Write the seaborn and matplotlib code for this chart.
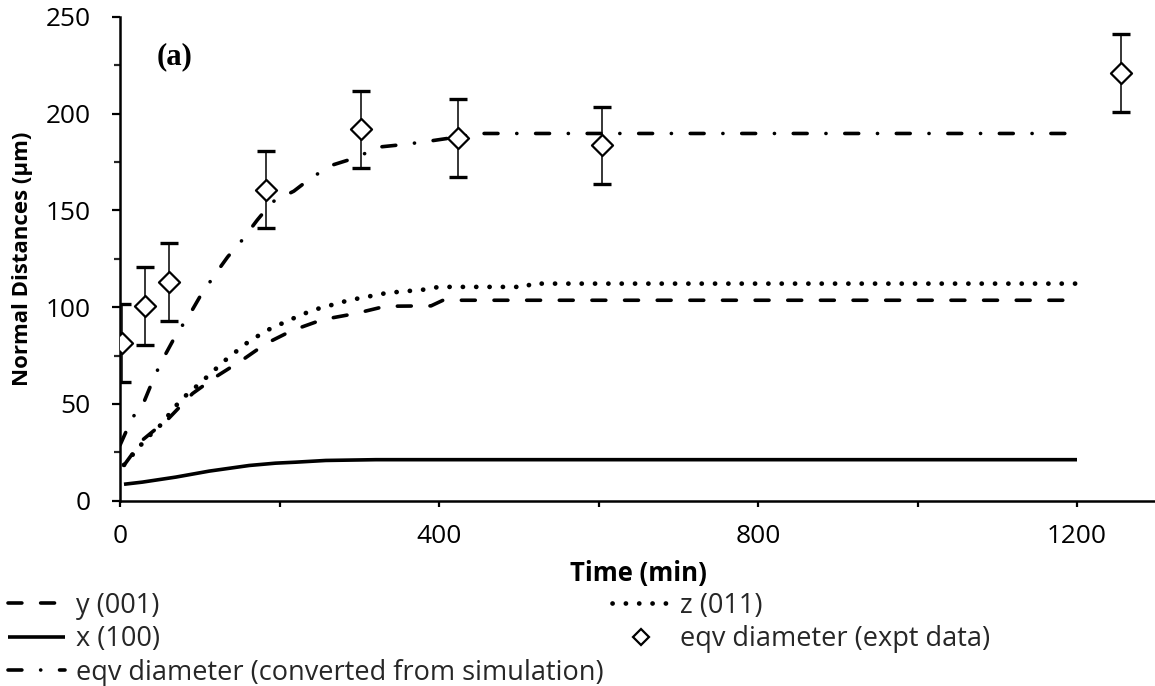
import matplotlib
matplotlib.use("Agg")
import matplotlib.pyplot as plt
import numpy as np
import pandas as pd
import seaborn as sns
from matplotlib.lines import Line2D
from matplotlib.ticker import MultipleLocator

# --- simulated crystal dimensions (µm) vs time (min) ---
t_y001 = [5, 28, 61, 91, 120, 153, 183, 216, 254, 295, 333, 390, 405, 1200]
v_y001 = [18.3, 31.3, 42.5, 55.4, 64.0, 72.6, 81.2, 88.0, 93.6, 96.7, 100.5, 100.7, 103.6, 103.6]

t_z011 = [5, 33, 49, 76, 100, 132, 158, 183, 212, 241, 287, 335, 381, 400, 510, 515, 1200]
v_z011 = [18.5, 32.1, 38.2, 52.0, 60.6, 72.6, 81.2, 87.8, 93.3, 98.4, 103.6, 107.4, 109.1, 110.5, 110.5, 112.2, 112.2]

t_x100 = [5, 28, 70, 112, 162, 195, 220, 258, 321, 1200]
v_x100 = [8.5, 9.6, 12.2, 15.3, 18.2, 19.4, 19.9, 20.8, 21.2, 21.2]

t_eqv_sim = [0, 15, 30, 43, 53, 70, 87, 101, 120, 135, 153, 172, 191, 218, 241, 268, 295, 325, 358, 387, 410, 450, 1200]
v_eqv_sim = [28.7, 42.5, 51.0, 64.0, 72.6, 85.5, 96.0, 106.0, 117.4, 126.0, 134.6, 145.0, 154.4, 160.0, 167.3,
             173.7, 177.2, 182.8, 184.2, 185.8, 187.2, 189.8, 189.8]

# --- experimental equivalent diameter ---
t_expt = [3, 31, 61, 183, 302, 424, 604, 1255]
v_expt = [81.6, 100.7, 113.1, 160.8, 192.0, 187.5, 183.7, 221.0]
err_expt = [20, 20, 20, 20, 20, 20, 20, 20]

labels = {
    "y001": "y (001)",
    "z011": "z (011)",
    "x100": "x (100)",
    "expt": "eqv diameter (expt data)",
    "sim": "eqv diameter (converted from simulation)",
}

sns.set_theme(style="ticks")
FONT = ["Open Sans", "DejaVu Sans"]
plt.rcParams["font.family"] = FONT
plt.rcParams["lines.scale_dashes"] = False
plt.rcParams["lines.dash_capstyle"] = "round"
plt.rcParams["lines.solid_capstyle"] = "butt"

W, H = 1155, 686
fig = plt.figure(figsize=(W / 100, H / 100), dpi=100)
renderer = fig.canvas.get_renderer()


def size_for_width(text, width_px, **kw):
    """Font size (pt) at which `text` renders `width_px` pixels wide."""
    probe = fig.text(0, 0, text, fontsize=20, **kw)
    w = probe.get_window_extent(renderer).width
    probe.remove()
    return 20 * width_px / w


fs_tick = size_for_width("800", 45)
fs_leg = size_for_width(labels["sim"], 526)
fs_xlab = size_for_width("Time (min)", 137, fontweight="bold")
fs_ylab = size_for_width("Normal Distances (µm)", 254, fontweight="bold")
fs_tag = size_for_width("(a)", 36, fontweight="bold", family="Liberation Serif")

ax = fig.add_axes([120 / W, 1 - 500.7 / H, 1036.75 / W, 483.7 / H])

LW = 2.6
styles = {
    "y001": dict(linestyle=(0, (10.0, 13.5)), linewidth=LW),
    "z011": dict(linestyle=(0, (0.1, 9.5)), linewidth=3.4),
    "x100": dict(linestyle="-", linewidth=LW),
    "sim": dict(linestyle=(0, (10.0, 13.5, 0.1, 13.5)), linewidth=LW),
}

series = {
    "y001": (t_y001, v_y001),
    "z011": (t_z011, v_z011),
    "x100": (t_x100, v_x100),
    "sim": (t_eqv_sim, v_eqv_sim),
}
handles = {}
for key, (tt, vv) in series.items():
    df = pd.DataFrame({"t": tt, "v": vv})
    sns.lineplot(data=df, x="t", y="v", ax=ax, color="black",
                 estimator=None, sort=False, **styles[key])
    handles[key] = Line2D([], [], color="black", **styles[key])

# experimental points with error bars
ax.errorbar(t_expt, v_expt, yerr=err_expt, fmt="none", ecolor="black",
            elinewidth=1.1, capsize=6.5, capthick=2.4, zorder=3)
df_e = pd.DataFrame({"t": t_expt, "v": v_expt})
sns.scatterplot(data=df_e, x="t", y="v", ax=ax, marker="D", s=115,
                facecolor="white", edgecolor="black", linewidth=1.6, zorder=4)
handles["expt"] = Line2D([], [], linestyle="none", marker="D", markersize=8,
                         markerfacecolor="white", markeredgecolor="black",
                         markeredgewidth=1.6)

ax.set_xlim(0, 1300)
ax.set_ylim(0, 250)
ax.xaxis.set_major_locator(MultipleLocator(400))
ax.xaxis.set_minor_locator(MultipleLocator(200))
ax.yaxis.set_major_locator(MultipleLocator(50))
ax.yaxis.set_minor_locator(MultipleLocator(25))

for side in ("top", "right"):
    ax.spines[side].set_visible(False)
for side in ("left", "bottom"):
    ax.spines[side].set_linewidth(1.8)
    ax.spines[side].set_color("black")

ax.tick_params(axis="y", which="major", direction="out", length=6, width=1.6,
               pad=15, labelsize=fs_tick, colors="black")
ax.tick_params(axis="y", which="minor", direction="out", length=4, width=1.6)
ax.tick_params(axis="x", which="both", direction="out", length=4, width=1.6,
               pad=13, labelsize=fs_tick, colors="black")

ax.set_xlabel("Time (min)", fontsize=fs_xlab, fontweight="bold", color="black")
ax.set_ylabel("Normal Distances (µm)", fontsize=fs_ylab, fontweight="bold", color="black")
ax.xaxis.set_label_coords(0.5, -0.1495)
ax.xaxis.label.set_va("center")
ax.yaxis.set_label_coords(-0.0945, 0.5)
ax.yaxis.label.set_va("center")

ax.text(0.053, 0.917, "(a)", transform=ax.transAxes, ha="center", va="center",
        fontsize=fs_tag, fontweight="bold", family="Liberation Serif", color="black")

leg_kw = dict(loc="upper left", frameon=False, fontsize=fs_leg, handlelength=2.1,
              handletextpad=0.4, labelspacing=0.2, borderpad=0, borderaxespad=0)
leg1 = fig.legend([handles["y001"], handles["x100"], handles["sim"]],
                  [labels["y001"], labels["x100"], labels["sim"]],
                  bbox_to_anchor=(8 / W, 1 - 592 / H), **leg_kw)
leg2 = fig.legend([handles["z011"], handles["expt"]],
                  [labels["z011"], labels["expt"]],
                  bbox_to_anchor=(612 / W, 1 - 592 / H), **leg_kw)

fig.savefig("out.png", dpi=100)
